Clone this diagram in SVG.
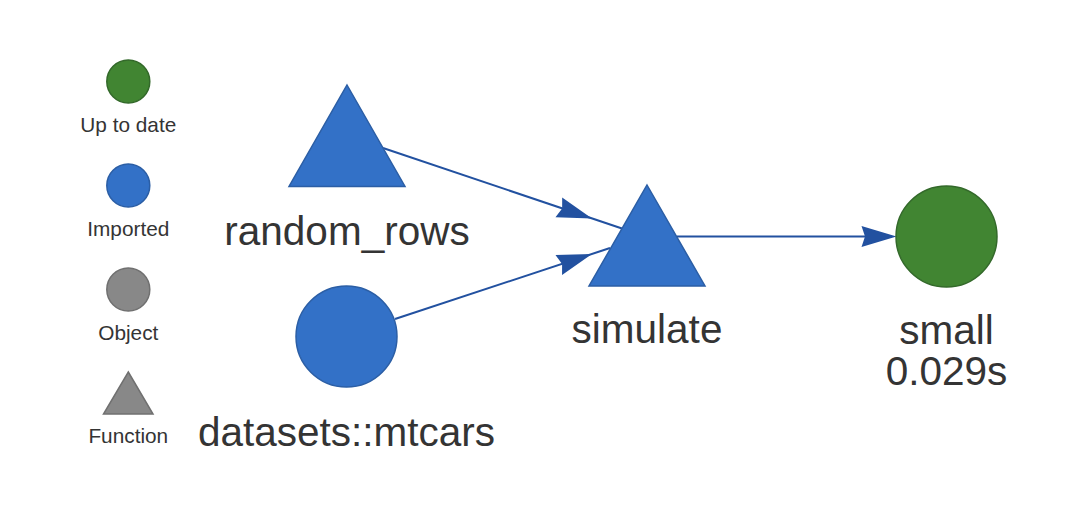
<svg xmlns="http://www.w3.org/2000/svg" xmlns:xlink="http://www.w3.org/1999/xlink" width="1082" height="520" viewBox="0 0 1082 520">
<style>
  text { font-family: "Liberation Sans", Arial, sans-serif; fill: #343434; text-anchor: middle; }
  .leg { font-size: 20.8px; }
  .lbl { font-size: 40.5px; }
  .blue { fill: #3371c7; stroke: #2b5ea5; stroke-width: 1.5; }
  .green { fill: #418532; stroke: #33692a; stroke-width: 1.5; }
  .gray { fill: #888888; stroke: #707070; stroke-width: 1.5; }
  .edge { stroke: #2251a0; stroke-width: 2; fill: none; }
  .head { fill: #2251a0; }
</style>
<defs>
  <path id="arrowhead" d="M0,0 L-35,-10.5 L-31.5,0 L-35,10.5 Z"/>
</defs>
<rect width="1082" height="520" fill="#ffffff"/>
<g id="legend">
  <g id="legend-uptodate">
    <circle class="green" cx="128.3" cy="81.5" r="21.5"/>
    <text class="leg" x="128.3" y="132">Up to date</text>
  </g>
  <g id="legend-imported">
    <circle class="blue" cx="128.3" cy="185.5" r="21.5"/>
    <text class="leg" x="128.3" y="236">Imported</text>
  </g>
  <g id="legend-object">
    <circle class="gray" cx="128.3" cy="289.5" r="21.5"/>
    <text class="leg" x="128.3" y="339.5">Object</text>
  </g>
  <g id="legend-function">
    <polygon class="gray" points="128.3,372 153,414 103.5,414"/>
    <text class="leg" x="128.3" y="443">Function</text>
  </g>
</g>
<g id="connectors">
  <line class="edge" x1="383" y1="148" x2="622" y2="228.5"/>
  <use href="#arrowhead" class="head" transform="translate(592,218.5) rotate(18.6)"/>
  <line class="edge" x1="395" y1="319" x2="610" y2="248"/>
  <use href="#arrowhead" class="head" transform="translate(592,254) rotate(-18.3)"/>
  <line class="edge" x1="677" y1="236.5" x2="892" y2="236.5"/>
  <use href="#arrowhead" class="head" transform="translate(896.5,236.5)"/>
</g>
<g id="node-random_rows">
  <polygon class="blue" points="347,85 405,186.5 289,186.5"/>
  <text class="lbl" x="347" y="245">random_rows</text>
</g>
<g id="node-datasets_mtcars">
  <circle class="blue" cx="346.5" cy="336.5" r="50.5"/>
  <text class="lbl" x="346.5" y="445.5">datasets::mtcars</text>
</g>
<g id="node-simulate">
  <polygon class="blue" points="647,185 705,286 589,286"/>
  <text class="lbl" x="647" y="343">simulate</text>
</g>
<g id="node-small">
  <circle class="green" cx="946.5" cy="236.5" r="50.5"/>
  <text class="lbl" x="946.5" y="343.5">small</text>
  <text class="lbl" x="946.5" y="384.5">0.029s</text>
</g>
</svg>
